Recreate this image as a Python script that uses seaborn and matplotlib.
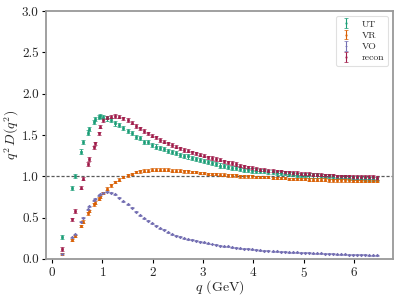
import matplotlib
matplotlib.use("Agg")
import matplotlib.pyplot as plt
import seaborn as sns
import numpy as np

# momentum values (GeV)
q = [0.20, 0.40, 0.45, 0.57, 0.61, 0.71, 0.73, 0.83, 0.85, 0.93, 0.96,
     1.02, 1.10, 1.18, 1.26, 1.34, 1.42, 1.50, 1.58, 1.66, 1.74,
     1.82, 1.90, 1.98, 2.06, 2.14, 2.22, 2.30, 2.38, 2.46, 2.54,
     2.62, 2.70, 2.78, 2.86, 2.94, 3.02, 3.10, 3.18, 3.26, 3.34,
     3.42, 3.50, 3.58, 3.66, 3.74, 3.82, 3.90, 3.98, 4.06, 4.14,
     4.22, 4.30, 4.38, 4.46, 4.54, 4.62, 4.70, 4.78, 4.86, 4.94,
     5.02, 5.10, 5.18, 5.26, 5.34, 5.42, 5.50, 5.58, 5.66, 5.74,
     5.82, 5.90, 5.98, 6.06, 6.14, 6.22, 6.30, 6.38, 6.46]

ut = [0.27, 0.86, 1.00, 1.30, 1.42, 1.53, 1.57, 1.66, 1.69, 1.72, 1.73,
      1.72, 1.70, 1.68, 1.64, 1.62, 1.59, 1.55, 1.52, 1.48, 1.46,
      1.42, 1.41, 1.38, 1.36, 1.34, 1.33, 1.31, 1.29, 1.28, 1.26,
      1.25, 1.24, 1.22, 1.21, 1.20, 1.18, 1.17, 1.16, 1.15, 1.13,
      1.12, 1.11, 1.10, 1.10, 1.09, 1.08, 1.08, 1.07, 1.07, 1.06,
      1.06, 1.05, 1.05, 1.04, 1.04, 1.04, 1.03, 1.03, 1.02, 1.02,
      1.02, 1.01, 1.01, 1.01, 1.00, 1.00, 1.00, 0.99, 0.99, 0.99,
      0.99, 0.98, 0.98, 0.98, 0.98, 0.97, 0.97, 0.97, 0.97]

vr = [0.06, 0.23, 0.28, 0.40, 0.45, 0.55, 0.58, 0.66, 0.68, 0.73, 0.75,
      0.80, 0.85, 0.89, 0.93, 0.96, 0.99, 1.01, 1.03, 1.05, 1.06,
      1.07, 1.07, 1.08, 1.08, 1.08, 1.08, 1.08, 1.07, 1.07, 1.07,
      1.06, 1.06, 1.05, 1.05, 1.04, 1.04, 1.03, 1.03, 1.03, 1.02,
      1.02, 1.01, 1.01, 1.01, 1.00, 1.00, 1.00, 1.00, 0.99, 0.99,
      0.99, 0.99, 0.98, 0.98, 0.98, 0.98, 0.97, 0.97, 0.97, 0.97,
      0.97, 0.96, 0.96, 0.96, 0.96, 0.96, 0.95, 0.95, 0.95, 0.95,
      0.95, 0.95, 0.94, 0.94, 0.94, 0.94, 0.94, 0.94, 0.94]

vo = [0.06, 0.26, 0.30, 0.45, 0.50, 0.60, 0.64, 0.71, 0.73, 0.77, 0.78,
      0.80, 0.81, 0.80, 0.78, 0.74, 0.70, 0.66, 0.62, 0.57, 0.53,
      0.49, 0.46, 0.43, 0.40, 0.37, 0.35, 0.32, 0.30, 0.28, 0.27,
      0.25, 0.24, 0.23, 0.22, 0.21, 0.20, 0.19, 0.18, 0.17, 0.16,
      0.155, 0.15, 0.14, 0.135, 0.13, 0.125, 0.12, 0.115, 0.11, 0.105,
      0.10, 0.097, 0.094, 0.091, 0.088, 0.085, 0.082, 0.080, 0.078, 0.076,
      0.074, 0.072, 0.070, 0.068, 0.066, 0.064, 0.062, 0.060, 0.058, 0.056,
      0.054, 0.052, 0.050, 0.049, 0.048, 0.047, 0.046, 0.045, 0.044]

recon = [0.12, 0.48, 0.58, 0.86, 0.97, 1.15, 1.21, 1.35, 1.40, 1.52, 1.60,
         1.68, 1.71, 1.72, 1.73, 1.72, 1.70, 1.68, 1.65, 1.61, 1.58,
         1.55, 1.52, 1.49, 1.47, 1.44, 1.42, 1.40, 1.38, 1.36, 1.34,
         1.32, 1.31, 1.29, 1.28, 1.26, 1.25, 1.23, 1.22, 1.21, 1.20,
         1.18, 1.17, 1.16, 1.15, 1.13, 1.12, 1.11, 1.10, 1.09, 1.08,
         1.08, 1.07, 1.07, 1.06, 1.06, 1.05, 1.05, 1.04, 1.04, 1.03,
         1.03, 1.03, 1.02, 1.02, 1.02, 1.01, 1.01, 1.01, 1.00, 1.00,
         1.00, 1.00, 0.99, 0.99, 0.99, 0.99, 0.99, 0.99, 0.98]

labels = ["UT", "VR", "VO", "recon"]
errors = [0.025, 0.015, 0.006, 0.02]

sns.set_style("ticks")
plt.rcParams["font.family"] = "serif"
plt.rcParams["font.serif"] = ["cmr10", "DejaVu Serif"]
plt.rcParams["mathtext.fontset"] = "cm"
plt.rcParams["axes.formatter.use_mathtext"] = True
plt.rcParams["axes.unicode_minus"] = False

colors = sns.color_palette("Dark2", 3) + ["#a01c4a"]
markers = ["s", "s", "P", "s"]

fig, ax = plt.subplots(figsize=(3.99, 3.01), dpi=100)
fig.subplots_adjust(left=0.116, right=0.985, bottom=0.14, top=0.963)

for y, lab, err, col, mk in zip([ut, vr, vo, recon], labels, errors, colors, markers):
    ax.errorbar(q, y, yerr=err, fmt=mk, color=col, ms=1.7, mew=0.5,
                elinewidth=0.8, capsize=1.3, capthick=0.8, label=lab)

ax.axhline(1.0, color="0.35", ls="--", lw=0.9, dashes=(2.5, 1.5), zorder=0)

ax.set_ylim(0, 3)
ax.set_yticks([0.0, 0.5, 1.0, 1.5, 2.0, 2.5, 3.0])
ax.set_yticklabels(["0.0", "0.5", "1.0", "1.5", "2.0", "2.5", "3.0"])
ax.set_xticks([0, 1, 2, 3, 4, 5, 6])
ax.set_xlabel("$q$ (GeV)", fontsize=10, labelpad=-1.5)
ax.set_ylabel("$q^2\\,D(q^2)$", fontsize=10, labelpad=0.5)
ax.tick_params(labelsize=9.5, length=3, width=0.8, color="black", pad=2.5)

for sp in ax.spines.values():
    sp.set_color("0.6")
    sp.set_linewidth(1.3)

leg = ax.legend(loc="upper right", fontsize=7, frameon=True, handlelength=1.2,
                borderpad=0.4, labelspacing=0.25, handletextpad=1.0, markerscale=0.5)
leg.get_frame().set_edgecolor("0.85")
leg.get_frame().set_linewidth(0.8)

plt.savefig("out.png", dpi=100)
